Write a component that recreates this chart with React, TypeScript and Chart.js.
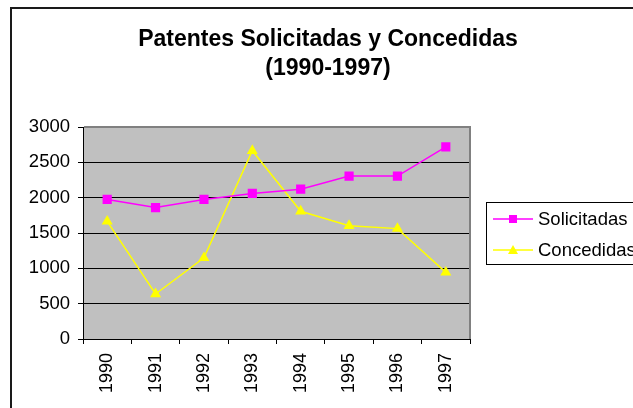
import React, { useEffect, useRef } from 'react';
import { Chart, registerables } from 'chart.js';

Chart.register(...registerables);

const years = ['1990', '1991', '1992', '1993', '1994', '1995', '1996', '1997'];
const solicitadas = [1975, 1860, 1975, 2060, 2120, 2305, 2305, 2720];
const concedidas = [1665, 637, 1148, 2664, 1808, 1603, 1562, 943];
const yTicks = [0, 500, 1000, 1500, 2000, 2500, 3000];
const titleLines = ['Patentes Solicitadas y Concedidas', '(1990-1997)'];
const seriesNames = ['Solicitadas', 'Concedidas'];

const FONT = '"Liberation Sans", Arial, Helvetica, sans-serif';
const MAGENTA = '#ff00ff';
const YELLOW = '#ffff00';

const decorPlugin = {
  id: 'decor',
  beforeDraw(chart: any) {
    const { ctx, chartArea } = chart;
    ctx.save();
    ctx.fillStyle = '#ffffff';
    ctx.fillRect(0, 0, chart.width, chart.height);
    // outer frame
    ctx.strokeStyle = '#1a1a1a';
    ctx.lineWidth = 2;
    ctx.strokeRect(11, 8, 700, 500);
    // plot background
    ctx.fillStyle = '#c0c0c0';
    ctx.fillRect(chartArea.left, chartArea.top, chartArea.right - chartArea.left, chartArea.bottom - chartArea.top);
    // title
    ctx.fillStyle = '#000';
    ctx.font = `bold 23px ${FONT}`;
    ctx.textAlign = 'center';
    ctx.textBaseline = 'alphabetic';
    ctx.fillText(titleLines[0], 328, 46);
    ctx.fillText(titleLines[1], 328, 75);
    ctx.restore();
  },
  beforeDatasetsDraw(chart: any) {
    const { ctx, chartArea } = chart;
    ctx.save();
    ctx.fillStyle = '#808080';
    ctx.fillRect(chartArea.left + 1, chartArea.top - 1, chartArea.right - chartArea.left, 2);
    ctx.fillRect(chartArea.right - 1, chartArea.top - 1, 2, chartArea.bottom - chartArea.top + 1);
    ctx.restore();
  },
  afterDraw(chart: any) {
    const { ctx } = chart;
    ctx.save();
    // legend box
    ctx.strokeStyle = '#000';
    ctx.lineWidth = 1;
    ctx.strokeRect(486.5, 202.5, 300, 62);
    const items = [
      { name: seriesNames[0], color: MAGENTA, y: 219, shape: 'rect' },
      { name: seriesNames[1], color: YELLOW, y: 250, shape: 'tri' },
    ];
    items.forEach((it) => {
      ctx.strokeStyle = it.color;
      ctx.lineWidth = 1.5;
      ctx.beginPath();
      ctx.moveTo(493, it.y);
      ctx.lineTo(533, it.y);
      ctx.stroke();
      ctx.fillStyle = it.color;
      if (it.shape === 'rect') {
        ctx.fillRect(509, it.y - 4, 8, 8);
      } else {
        ctx.beginPath();
        ctx.moveTo(513, it.y - 5);
        ctx.lineTo(518, it.y + 4);
        ctx.lineTo(508, it.y + 4);
        ctx.closePath();
        ctx.fill();
      }
      ctx.fillStyle = '#000';
      ctx.font = `18.5px ${FONT}`;
      ctx.textAlign = 'left';
      ctx.textBaseline = 'middle';
      ctx.fillText(it.name, 538, it.y + 1);
    });
    ctx.restore();
  },
};

export default function App() {
  const ref = useRef<HTMLCanvasElement>(null);
  useEffect(() => {
    const chart = new Chart(ref.current!, {
      type: 'line',
      data: {
        labels: years,
        datasets: [
          {
            label: seriesNames[0],
            data: solicitadas,
            borderColor: MAGENTA,
            backgroundColor: MAGENTA,
            borderWidth: 1.5,
            pointStyle: 'rect',
            pointRadius: 6.5,
            pointBorderWidth: 0,
            tension: 0,
          },
          {
            label: seriesNames[1],
            data: concedidas,
            borderColor: YELLOW,
            backgroundColor: YELLOW,
            borderWidth: 1.5,
            pointStyle: 'triangle',
            pointRadius: 6.4,
            pointBorderWidth: 0,
            tension: 0,
          },
        ],
      },
      options: {
        responsive: false,
        animation: false,
        devicePixelRatio: 1,
        layout: { padding: { left: 0, top: 127, right: 163, bottom: 0 } },
        plugins: {
          legend: { display: false },
          title: { display: false },
          tooltip: { enabled: false },
        },
        scales: {
          x: {
            type: 'category',
            offset: true,
            afterFit: (s: any) => {
              s.height = 69;
            },
            grid: {
              offset: true,
              drawOnChartArea: false,
              drawTicks: true,
              tickLength: 5,
              color: '#000',
            },
            border: { display: true, color: '#000', width: 1 },
            ticks: {
              autoSkip: false,
              minRotation: 90,
              maxRotation: 90,
              padding: 9,
              color: '#000',
              font: { family: FONT, size: 18 },
            },
          },
          y: {
            min: 0,
            max: 3000,
            afterFit: (s: any) => {
              s.width = 83;
            },
            afterBuildTicks: (s: any) => {
              s.ticks = yTicks.map((v) => ({ value: v }));
            },
            grid: {
              color: '#000',
              lineWidth: 1,
              drawTicks: true,
              tickLength: 5,
            },
            border: { display: true, color: '#000', width: 1 },
            ticks: {
              padding: 8,
              color: '#000',
              font: { family: FONT, size: 18.5 },
              callback: (v: any) => String(v),
            },
          },
        },
      },
      plugins: [decorPlugin],
    });
    return () => chart.destroy();
  }, []);
  return (
    <div style={{ position: 'fixed', left: 0, top: 0, width: 633, height: 408, background: '#fff', overflow: 'hidden' }}>
      <canvas ref={ref} width={633} height={408} style={{ display: 'block' }} />
    </div>
  );
}
